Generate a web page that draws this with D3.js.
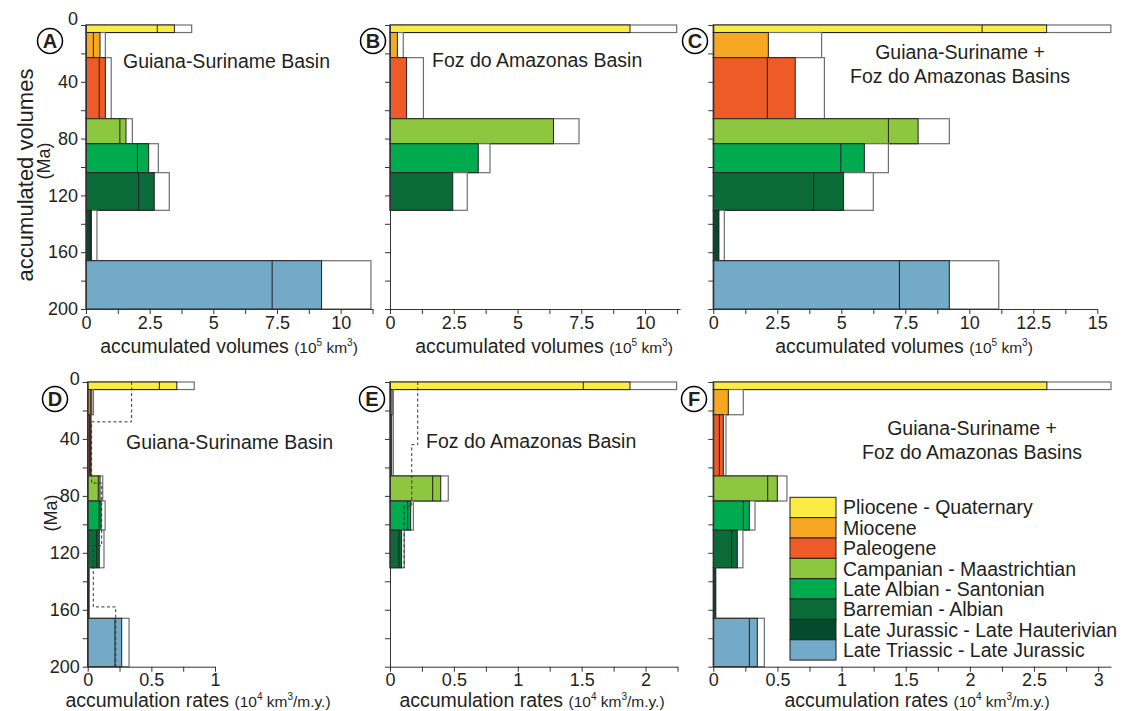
<!DOCTYPE html>
<html>
<head>
<meta charset="utf-8">
<script src="https://cdn.jsdelivr.net/npm/d3@7"></script>
<style>
  html, body { margin: 0; padding: 0; background: #fff; }
  svg { display: block; }
  text { font-family: 'Liberation Sans', Arial, sans-serif; fill: #231f20; }
</style>
</head>
<body>
<svg id="chart" width="1131" height="711"></svg>
<script>
// ---------- DATA ----------
const periods = ["Pliocene - Quaternary", "Miocene", "Paleogene", "Campanian - Maastrichtian",
  "Late Albian - Santonian", "Barremian - Albian", "Late Jurassic - Late Hauterivian", "Late Triassic - Late Jurassic"];
const colors = ["#fbeb45", "#f7a823", "#ef5b27", "#8dc63f", "#00aa4f", "#0b6b38", "#044a2f", "#72aac7"];
const ageTop  = [0, 5.3, 23, 66, 83.6, 104, 130.5, 166];
const ageBase = [5.3, 23, 66, 83.6, 104, 130.5, 166, 200];

// accumulated volumes (10^5 km3): low / best / high
const volGS_min = [2.8, 0.29, 0.52, 1.33, 2.02, 2.07, 0.18, 7.31];
const volGS_mid = [3.47, 0.55, 0.76, 1.57, 2.46, 2.68, 0.21, 9.25];
const volGS_max = [4.15, 0.76, 0.99, 1.82, 2.84, 3.27, 0.43, 11.19];

const volFA_min = [null, null, null, null, null, null, null, null];
const volFA_mid = [9.41, 0.29, 0.65, 6.41, 3.46, 2.46, 0, 0];
const volFA_max = [11.24, 0.52, 1.31, 7.41, 3.92, 3.03, 0, 0];

const volTot_min = [10.5, null, 2.11, 6.84, 4.98, 3.92, null, 7.27];
const volTot_mid = [13.02, 2.15, 3.2, 8.0, 5.9, 5.09, 0.22, 9.22];
const volTot_max = [15.53, 4.23, 4.34, 9.22, 6.84, 6.25, 0.43, 11.15];

// accumulation rates (10^4 km3/m.y.)
const rateGS_min = [0.563, 0.02, 0.016, 0.083, 0.09, 0.071, 0.005, 0.214];
const rateGS_mid = [0.70, 0.032, 0.021, 0.097, 0.105, 0.091, 0.008, 0.267];
const rateGS_max = [0.837, 0.045, 0.028, 0.118, 0.137, 0.128, 0.012, 0.325];

const rateFA_min = [1.513, null, null, 0.334, 0.138, 0.07, null, null];
const rateFA_mid = [1.878, 0.016, 0.013, 0.397, 0.162, 0.091, 0, 0];
const rateFA_max = [2.243, 0.026, 0.026, 0.456, 0.183, 0.112, 0, 0];

const rateTot_min = [null, null, 0.047, 0.424, 0.234, 0.143, null, 0.281];
const rateTot_mid = [2.6, 0.117, 0.078, 0.499, 0.281, 0.187, 0.016, 0.343];
const rateTot_max = [3.1, 0.234, 0.099, 0.574, 0.325, 0.231, 0.02, 0.398];

// dashed step lines (earlier estimates)
const dashGS_age  = [0, 28, 71, 115, 158, 200];
const dashGS_rate = [0.345, 0.031, 0.11, 0.044, 0.22];
const dashFA_age  = [0, 44, 87, 130.5];
const dashFA_rate = [0.217, 0.17, 0.11];

const ageTicks = [0, 20, 40, 60, 80, 100, 120, 140, 160, 180, 200];

// ---------- LAYOUT ----------
const svg = d3.select("#chart");
const ink = "#231f20";

const panels = [
  {id:"A", x0:86, x1:373, xmax:11.27, y0:25, y1:309, step:1.25, lab:2.5, labels:true,
   min:volGS_min, mid:volGS_mid, max:volGS_max, circ:[50,41], kind:"vol"},
  {id:"B", x0:390, x1:680, xmax:11.37, y0:25, y1:309, step:1.25, lab:2.5, labels:false,
   min:volFA_min, mid:volFA_mid, max:volFA_max, circ:[373,41], kind:"vol"},
  {id:"C", x0:713.3, x1:1097.3, xmax:15, y0:25, y1:309, step:1.25, lab:2.5, labels:false,
   min:volTot_min, mid:volTot_mid, max:volTot_max, circ:[695,41], kind:"vol"},
  {id:"D", x0:87.7, x1:215, xmax:1, y0:382, y1:666.7, step:0.25, lab:0.5, labels:true,
   min:rateGS_min, mid:rateGS_mid, max:rateGS_max, circ:[55,399], kind:"rate",
   dashAge:dashGS_age, dashRate:dashGS_rate},
  {id:"E", x0:390, x1:677.5, xmax:2.25, y0:382, y1:666.7, step:0.25, lab:0.5, labels:false,
   min:rateFA_min, mid:rateFA_mid, max:rateFA_max, circ:[372,399], kind:"rate",
   dashAge:dashFA_age, dashRate:dashFA_rate},
  {id:"F", x0:713.3, x1:1111, xmax:3.1, y0:382, y1:666.7, step:0.25, lab:0.5, labels:false,
   min:rateTot_min, mid:rateTot_mid, max:rateTot_max, circ:[694,399], kind:"rate"}
];

function fmt(v){ return String(+v.toFixed(2)); }

panels.forEach(p => {
  const x = d3.scaleLinear().domain([0, p.xmax]).range([p.x0, p.x1]);
  const y = d3.scaleLinear().domain([0, 200]).range([p.y0, p.y1]);
  const g = svg.append("g");

  // bars
  const idx = d3.range(periods.length).filter(i => p.max[i] > 0);
  const bars = g.append("g");
  idx.forEach(i => {
    const yt = y(ageTop[i]), yb = y(ageBase[i]);
    bars.append("rect").attr("x", x(0)).attr("y", yt)
      .attr("width", x(p.max[i]) - x(0)).attr("height", yb - yt)
      .attr("fill", "#fff").attr("stroke", "#6d6e70").attr("stroke-width", 1.2);
    bars.append("rect").attr("x", x(0)).attr("y", yt)
      .attr("width", x(p.mid[i]) - x(0)).attr("height", yb - yt)
      .attr("fill", colors[i]).attr("stroke", ink).attr("stroke-width", 1);
    if (p.min[i] != null) {
      bars.append("line").attr("x1", x(p.min[i])).attr("x2", x(p.min[i]))
        .attr("y1", yt).attr("y2", yb).attr("stroke", ink).attr("stroke-width", 1);
    }
  });

  // dashed step line
  if (p.dashAge) {
    const pts = [];
    p.dashRate.forEach((r, k) => {
      pts.push([r, p.dashAge[k]]);
      pts.push([r, p.dashAge[k+1]]);
    });
    const line = d3.line().x(d => x(d[0])).y(d => y(d[1]));
    g.append("path").attr("d", line(pts)).attr("fill", "none")
      .attr("stroke", "#333").attr("stroke-width", 1).attr("stroke-dasharray", "3,2.5");
  }

  // y axis
  const ya = d3.axisLeft(y).tickValues(ageTicks).tickSize(5).tickSizeOuter(0).tickPadding(3)
    .tickFormat(d => (p.labels && d % 40 === 0) ? d : "");
  const yg = g.append("g").attr("transform", `translate(${x(0)},0)`).call(ya);
  yg.selectAll("text").style("font-size", "18px").attr("fill", ink);
  yg.selectAll("text").filter(d => d === 0).attr("dy", p.kind === "vol" ? "-0.05em" : "0.15em");
  yg.selectAll("line, path").attr("stroke", "#333");

  // x axis
  const xt = d3.range(0, p.xmax + 1e-6, p.step);
  const xa = d3.axisBottom(x).tickValues(xt).tickSize(5).tickSizeOuter(0).tickPadding(2)
    .tickFormat(d => (Math.abs(d / p.lab - Math.round(d / p.lab)) < 1e-6) ? fmt(d) : "");
  const xg = g.append("g").attr("transform", `translate(0,${p.y1})`).call(xa);
  xg.selectAll("text").style("font-size", "18px").attr("fill", ink);
  xg.selectAll("line, path").attr("stroke", "#333");

  // circled letter
  g.append("circle").attr("cx", p.circ[0]).attr("cy", p.circ[1]).attr("r", 12.5)
    .attr("fill", "#fff").attr("stroke", "#000").attr("stroke-width", 1.5);
  g.append("text").attr("x", p.circ[0]).attr("y", p.circ[1] + 7)
    .attr("text-anchor", "middle").style("font-size", "20px").style("font-weight", "bold")
    .attr("fill", "#000").text(p.id);

  // axis title
  const cx = p.kind === "vol" ? ({A:229, B:544, C:904})[p.id] : ({D:198, E:532, F:917})[p.id];
  const ty = p.kind === "vol" ? 353 : 707;
  const t = g.append("text").attr("x", cx).attr("y", ty).attr("text-anchor", "middle");
  if (p.kind === "vol") {
    t.append("tspan").style("font-size", "19.5px").text("accumulated volumes ");
    t.append("tspan").style("font-size", "15.5px").text("(10");
    t.append("tspan").style("font-size", "10px").attr("dy", -7).text("5");
    t.append("tspan").style("font-size", "15.5px").attr("dy", 7).text(" km");
    t.append("tspan").style("font-size", "10px").attr("dy", -7).text("3");
    t.append("tspan").style("font-size", "15.5px").attr("dy", 7).text(")");
  } else {
    t.append("tspan").style("font-size", "19.5px").text("accumulation rates ");
    t.append("tspan").style("font-size", "15.5px").text("(10");
    t.append("tspan").style("font-size", "10px").attr("dy", -7).text("4");
    t.append("tspan").style("font-size", "15.5px").attr("dy", 7).text(" km");
    t.append("tspan").style("font-size", "10px").attr("dy", -7).text("3");
    t.append("tspan").style("font-size", "15.5px").attr("dy", 7).text("/m.y.)");
  }
});

// panel titles
function title(x, y, lines, anchor) {
  lines.forEach((s, k) => {
    svg.append("text").attr("x", x).attr("y", y + k * 24).attr("text-anchor", anchor)
      .style("font-size", "19.5px").text(s);
  });
}
title(123, 68, ["Guiana-Suriname Basin"], "start");
title(432, 67, ["Foz do Amazonas Basin"], "start");
title(960, 59, ["Guiana-Suriname +", "Foz do Amazonas Basins"], "middle");
title(126, 449, ["Guiana-Suriname Basin"], "start");
title(426, 448, ["Foz do Amazonas Basin"], "start");
title(972, 435, ["Guiana-Suriname +", "Foz do Amazonas Basins"], "middle");

// y axis titles
svg.append("text").attr("transform", "translate(33,175) rotate(-90)")
  .attr("text-anchor", "middle").style("font-size", "22px").text("accumulated volumes");
svg.append("text").attr("transform", "translate(50,161) rotate(-90)")
  .attr("text-anchor", "middle").style("font-size", "18px").text("(Ma)");
svg.append("text").attr("transform", "translate(57,513) rotate(-90)")
  .attr("text-anchor", "middle").style("font-size", "18px").text("(Ma)");

// legend
const lg = svg.append("g");
const rowH = 20.35, lx = 790, ly = 497.3;
periods.forEach((name, i) => {
  lg.append("rect").attr("x", lx).attr("y", ly + i * rowH).attr("width", 46).attr("height", rowH)
    .attr("fill", colors[i]).attr("stroke", ink).attr("stroke-width", 1);
  lg.append("text").attr("x", 843).attr("y", ly + i * rowH + rowH / 2 + 7)
    .style("font-size", "19.5px").text(name);
});
</script>
</body>
</html>
